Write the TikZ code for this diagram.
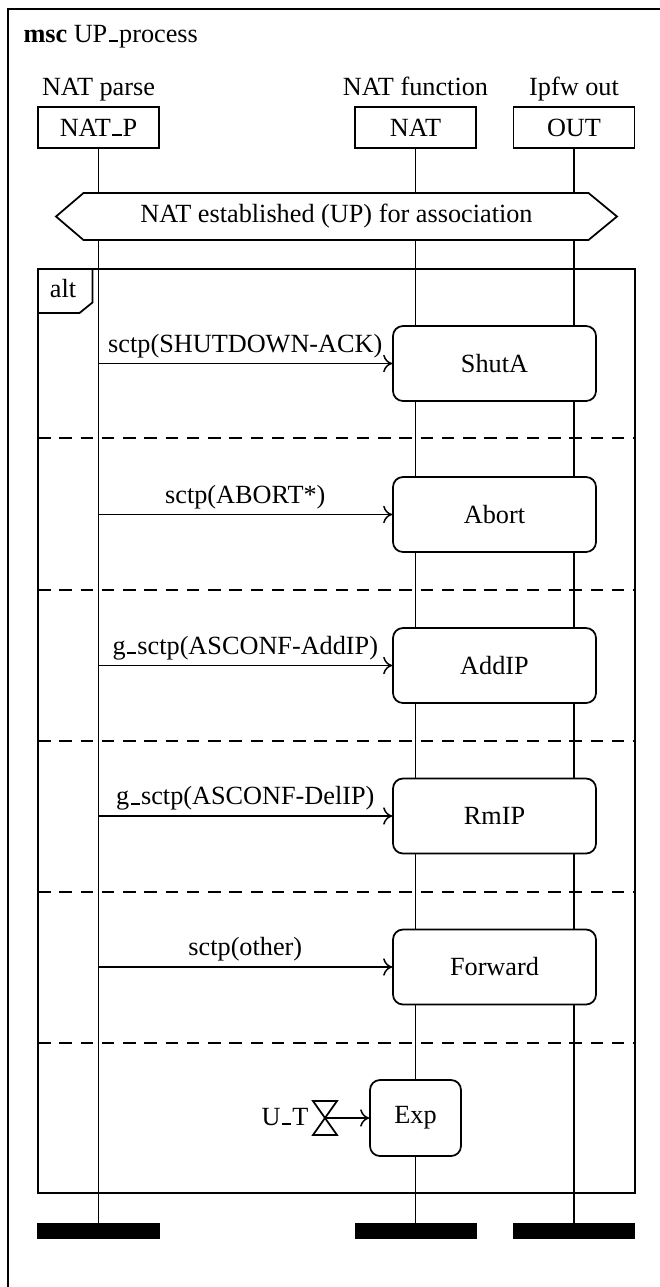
\documentclass[tikz,border=0pt]{standalone}
\usepackage{fontspec}
\setmainfont{Liberation Serif}
\usetikzlibrary{arrows.meta}
\newcommand\usc{\leavevmode\kern.06em\vbox{\hrule width.35em height .8pt}\kern.04em}
\tikzset{
  inst/.style={draw,line width=0.7pt,fill=white,minimum width=48.4pt,minimum height=16.4pt,inner sep=0pt},
  instend/.style={fill=black,minimum width=48.8pt,minimum height=6.4pt,inner sep=0pt},
  lifeline/.style={line width=0.6pt},
  action/.style={draw,line width=0.7pt,fill=white,rounded corners=4pt,minimum width=81.2pt,minimum height=30pt,inner sep=0pt},
  msg/.style={-{To[length=3.6pt,width=7pt]},line width=0.6pt},
  msglabel/.style={above,inner sep=2pt},
  altsep/.style={line width=0.6pt,dash pattern=on 5pt off 3.5pt}
}
\begin{document}
\begin{tikzpicture}[x=0.4pt,y=-0.4pt,font=\fontsize{10.5}{12.6}\selectfont]
  \useasboundingbox (0,0) rectangle (660,1287);
  \draw[line width=0.8pt] (8,9) rectangle (700,1330);
  \node[anchor=base west,inner sep=0pt] (title) at (23,42) {\textbf{msc} UP\usc process};

  % instances
  \node[anchor=base] (natpname) at (98.5,95) {NAT parse};
  \node[anchor=base] (natname) at (415.5,95) {NAT function};
  \node[anchor=base] (outname) at (574,95) {Ipfw out};
  \node[inst] (natp) at (98.5,127.5) {NAT\usc P};
  \node[inst] (nat) at (415.5,127.5) {NAT};
  \node[inst] (out) at (574,127.5) {OUT};
  \node[instend] (natpend) at (98.5,1231) {};
  \node[instend] (natend) at (415.5,1231) {};
  \node[instend] (outend) at (574,1231) {};
  \draw[lifeline] (natp) -- (natpend);
  \draw[lifeline] (nat) -- (natend);
  \draw[lifeline] (out) -- (outend);

  % condition
  \draw[line width=0.7pt,fill=white] (56,216.5) -- (83.5,193) -- (588.5,193) -- (617,216.5)
        -- (588.5,240) -- (83.5,240) -- cycle;
  \node (cond) at (336.5,216.5) {NAT established (UP) for association};

  % alt
  \draw[line width=0.7pt] (38,269) rectangle (635,1193);
  \draw[line width=0.7pt] (92.5,269) -- (92.5,302.5) -- (79.5,313) -- (38,313);
  \node[anchor=base] (alt) at (63,297) {alt};
  \foreach \y in {438,590,741,892,1043}
    \draw[altsep] (38,\y) -- (635,\y);

  \node[action] (shuta) at (494.5,363.5) {ShutA};
  \node[action] (abort) at (494.5,514.5) {Abort};
  \node[action] (addip) at (494.5,665.5) {AddIP};
  \node[action] (rmip) at (494.5,816) {RmIP};
  \node[action] (fwd) at (494.5,967) {Forward};
  \draw[msg] (natp |- shuta) -- node[msglabel]{sctp(SHUTDOWN-ACK)} (shuta);
  \draw[msg] (natp |- abort) -- node[msglabel]{sctp(ABORT*)} (abort);
  \draw[msg] (natp |- addip) -- node[msglabel]{g\usc sctp(ASCONF-AddIP)} (addip);
  \draw[msg] (natp |- rmip) -- node[msglabel]{g\usc sctp(ASCONF-DelIP)} (rmip);
  \draw[msg] (natp |- fwd) -- node[msglabel]{sctp(other)} (fwd);

  % timer
  \node[action,minimum width=36.4pt,minimum height=30.4pt] (exp) at (415.5,1118) {Exp};
  \coordinate (ut) at (325,1118);
  \draw[line width=0.7pt] (ut) ++(-12,-17) -- ++(24,0) -- ++(-24,34) -- ++(24,0) -- cycle;
  \draw[msg] (ut) -- (exp);
  \node[anchor=base east,inner sep=0pt] (utlabel) at (309,1125) {U\usc T};
\end{tikzpicture}
\end{document}
